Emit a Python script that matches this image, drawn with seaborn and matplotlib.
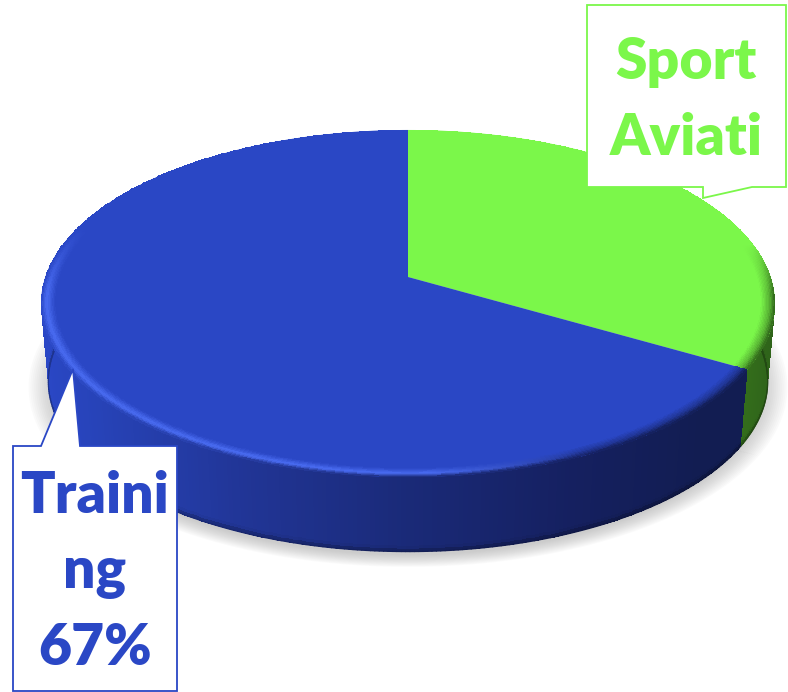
import numpy as np
import matplotlib
matplotlib.use("Agg")
import matplotlib.pyplot as plt
from matplotlib.patches import Polygon
from matplotlib.path import Path
from matplotlib.transforms import Transform
from matplotlib.collections import LineCollection
from matplotlib.colors import to_rgb
import seaborn as sns

categories = ["Sport Aviation", "Training"]
shares = [33.4, 66.6]
label_lines = ["Sport\nAviati", "Traini\nng\n67%"]
slice_colors = ["#7BF74A", "#2A47C5"]

sns.set_theme(style="white")
plt.rcParams["font.family"] = ["Lato", "DejaVu Sans"]
palette = sns.color_palette(slice_colors)

CX, CY, PERSP, A, D = 408.0, 277.0, 0.1527, 169.5, 362.7
MIDY = 304.0


def project(x, y, scale=1.0, dy=0.0):
    w = 1 + PERSP * y
    px = CX + D * x / w
    py = CY - A * y / w
    return CX + (px - CX) * scale, MIDY + (py - MIDY) * scale + dy


class Tilt(Transform):
    input_dims = output_dims = 2
    has_inverse = False

    def __init__(self, scale=1.0, dy=0.0):
        super().__init__()
        self.scale, self.dy = scale, dy

    def transform_non_affine(self, values):
        values = np.asarray(values, float)
        px, py = project(values[:, 0], values[:, 1], self.scale, self.dy)
        return np.column_stack([px, py])

    def transform_path_non_affine(self, path):
        pts = []
        for seg, code in path.iter_bezier():
            if code == Path.MOVETO:
                pts.append(seg.control_points[0][None, :])
            else:
                pts.append(seg(np.linspace(0, 1, 25)[1:]))
        return Path(self.transform_non_affine(np.vstack(pts)))


fig = plt.figure(figsize=(7.88, 6.92), dpi=100)
ax = fig.add_axes([0, 0, 1, 1])


def draw_pie(colors, tr, z, alpha=None):
    wedges, _ = ax.pie(shares, colors=colors, startangle=90, counterclock=False,
                       wedgeprops=dict(linewidth=0, alpha=alpha))
    for w in wedges:
        w.set_transform(tr + ax.transData)
        w.set_zorder(z)
        w.set_clip_on(False)


# soft shadow
for s in np.linspace(1.055, 0.985, 14):
    draw_pie(["#8a8a8a", "#8a8a8a"], Tilt(s * 0.98, 84), 1, alpha=0.034)

edges = np.concatenate([[0], np.cumsum(shares)]) / np.sum(shares) * 2 * np.pi

blue_u = [-1.0, -0.85, -0.45, 0.0, 0.45, 0.8, 1.0]
blue_wall = np.array([to_rgb(c) for c in
                      ["#2A47C5", "#2743B8", "#213596", "#1A2A78", "#152060", "#121D52", "#121D52"]])
green_wall = np.array([to_rgb("#35701C"), to_rgb("#2F641A")])


def wall_color(u, idx):
    if idx == 1:
        return np.stack([np.interp(u, blue_u, blue_wall[:, k]) for k in range(3)], -1)
    return np.stack([np.interp(u, [0.9, 1.0], green_wall[:, k]) for k in range(3)], -1)


def lerp(a, b, t):
    t = np.asarray(t)[..., None]
    return a + (b - a) * t


for idx in range(2):
    th = np.linspace(edges[idx], edges[idx + 1], 400)
    x, y = np.sin(th), np.cos(th)
    px0, py0 = project(x, y)
    px1, py1 = project(x, y, 0.98, 78)
    depth = np.linspace(0, 1, 26)
    X = px0[None, :] + (px1 - px0)[None, :] * depth[:, None]
    Y = py0[None, :] + (py1 - py0)[None, :] * depth[:, None]
    um = (0.5 * (px0[1:] + px0[:-1]) - CX) / 367
    col = wall_color(um, idx)
    dm = 0.5 * (depth[1:] + depth[:-1])
    dark = 1 - 0.28 * np.clip((dm - 0.93) / 0.07, 0, 1)
    C = col[None, :, :] * dark[:, None, None]
    ax.pcolormesh(X, Y, C, shading="flat", zorder=2, edgecolors="none",
                  linewidth=0, antialiased=False)
    # anti-aliased lower outline of the wall
    front = np.cos(0.5 * (th[1:] + th[:-1])) < 0.12
    segs = np.stack([np.column_stack([px1[:-1], py1[:-1]]),
                     np.column_stack([px1[1:], py1[1:]])], axis=1)[front]
    ax.add_collection(LineCollection(segs, colors=(col * 0.72)[front], linewidths=0.9,
                                     zorder=2.5, capstyle="round"))

# top surface
draw_pie(list(palette), Tilt(), 3)

# bevel along the rim
bright = np.array(to_rgb("#4A6CF2"))
for idx in range(2):
    face = np.array(palette[idx])
    th = np.linspace(edges[idx], edges[idx + 1], 400)
    tm = 0.5 * (th[1:] + th[:-1])
    rr = np.linspace(0.962, 1.0, 11)
    X = np.zeros((rr.size, th.size))
    Y = np.zeros((rr.size, th.size))
    for i, r in enumerate(rr):
        X[i], Y[i] = project(r * np.sin(th), r * np.cos(th))
    xm, ym = np.sin(tm), np.cos(tm)
    um = (project(xm, ym)[0] - CX) / 367
    wall = wall_color(um, idx)
    back = np.clip((ym + 0.1) / 0.3, 0, 1)
    if idx == 1:
        b = np.clip((0.5 - um) / 0.45, 0, 1) * np.clip((0.3 - ym) / 0.4, 0, 1)
    else:
        b = np.zeros_like(um)
    mid = lerp(lerp(face, wall, 0.45 * (1 - back)), bright, b)
    outer = lerp(wall, face, back)
    tt = 0.5 * (rr[1:] + rr[:-1])
    tt = (tt - rr[0]) / (rr[-1] - rr[0])
    C = np.zeros((tt.size, tm.size, 3))
    for i, t in enumerate(tt):
        C[i] = lerp(face + 0 * mid, mid, t / 0.6) if t < 0.6 else lerp(mid, outer, (t - 0.6) / 0.4)
    ax.pcolormesh(X, Y, C, shading="flat", zorder=4, edgecolors="none",
                  linewidth=0, antialiased=False)

# callouts
sport_box = [(587, 5), (786, 5), (786, 187), (752, 187), (703, 198), (703, 187), (587, 187)]
train_box = [(13, 446), (41, 446), (73, 369), (80, 446), (177, 446), (177, 691), (13, 691)]
ax.add_patch(Polygon(sport_box, closed=True, facecolor="white", edgecolor=palette[0],
                     linewidth=1.3, zorder=6, clip_on=False))
ax.add_patch(Polygon(train_box, closed=True, facecolor="white", edgecolor=palette[1],
                     linewidth=1.3, zorder=6, clip_on=False))
ax.text(686, 100, label_lines[0], color=palette[0], fontsize=41, fontweight="heavy",
        ha="center", va="center", linespacing=1.54, zorder=7)
ax.text(95, 572, label_lines[1], color=palette[1], fontsize=41, fontweight="heavy",
        ha="center", va="center", linespacing=1.54, zorder=7)

ax.set_aspect("auto")
ax.set_xlim(0, 788)
ax.set_ylim(692, 0)
ax.axis("off")
sns.despine(ax=ax, left=True, bottom=True)
fig.savefig("out.png", dpi=100, facecolor="white")
